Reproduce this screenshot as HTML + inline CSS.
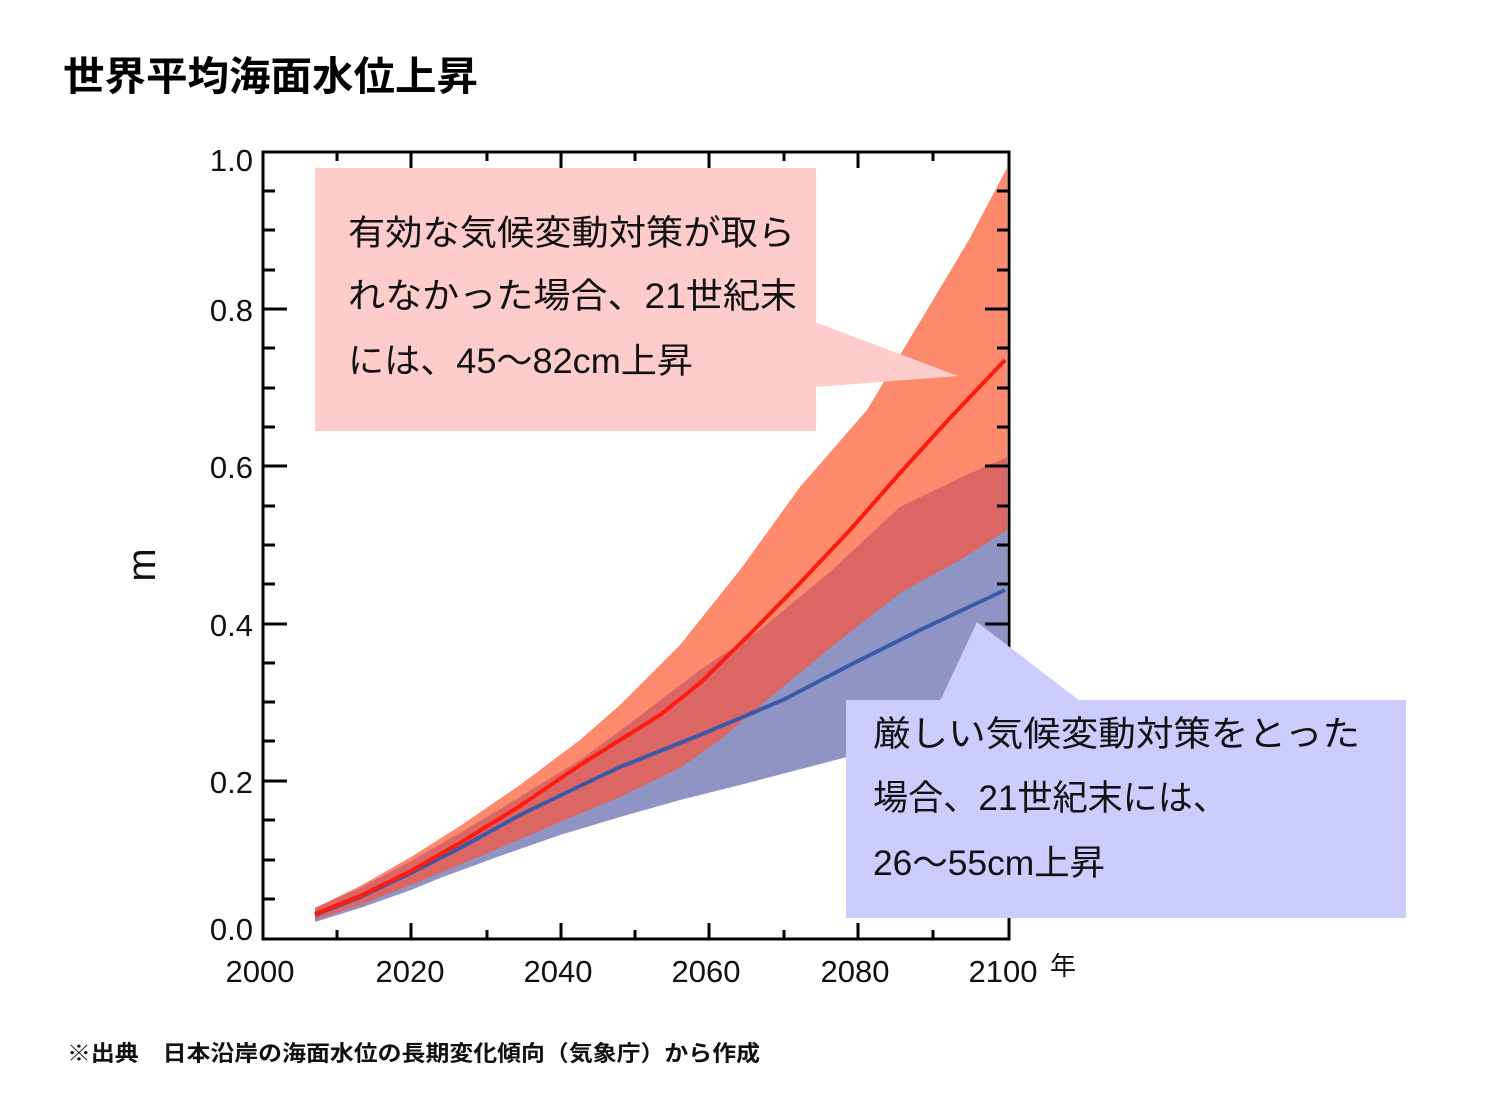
<!DOCTYPE html>
<html><head><meta charset="utf-8"><style>
html,body{margin:0;padding:0;background:#fff;}
svg{display:block;}
</style></head><body>
<svg width="1500" height="1101" viewBox="0 0 1500 1101" xmlns="http://www.w3.org/2000/svg">
<g font-family="Liberation Sans, Noto Sans CJK JP, sans-serif">
<text x="63" y="90" font-size="40" font-weight="bold" textLength="415" lengthAdjust="spacingAndGlyphs" fill="#000">世界平均海面水位上昇</text>

<!-- orange band -->
<path d="M315,908 L360,886 L411,857 L460,826 L520,785 L580,740 L620,705 L680,645 L740,570 L800,487 L867,410 L933,300 L970,238 L1007,168 L1007,530 L960,560 L900,593 L830,648 L767,700 L720,740 L680,768 L620,797 L560,822 L500,848 L440,873 L411,885 L360,905 L315,920 Z" fill="#fd8a6c"/>
<!-- blue band -->
<path d="M315,908 L360,888 L411,861 L460,833 L520,797 L580,760 L620,731 L700,670 L760,630 L830,572 L900,507 L960,478 L1007,457 L1007,722 L930,738 L847,757 L740,785 L680,800 L620,817 L560,835 L500,856 L440,878 L411,890 L360,908 L315,922 Z" fill="#8e95c4"/>
<!-- overlap -->
<path d="M315,908 L360,888 L411,861 L460,833 L520,797 L580,760 L620,731 L700,670 L760,630 L830,572 L900,507 L960,478 L1007,457 L1007,530 L960,560 L900,593 L830,648 L767,700 L720,740 L680,768 L620,797 L560,822 L500,848 L440,873 L411,885 L360,905 L315,920 Z" fill="#dc6663"/>
<!-- blue line -->
<polyline points="315,915 360,897 411,873 460,848 520,815 580,786 620,767 700,735 783,700 850,665 920,630 1005,590" fill="none" stroke="#3a5aa8" stroke-width="4"/>
<!-- red line -->
<polyline points="315,914 360,896 411,871 460,843 520,806 580,765 620,740 660,715 700,683 750,634 800,583 850,530 900,473 950,418 1005,360" fill="none" stroke="#ff1a10" stroke-width="4"/>

<!-- frame -->
<rect x="263" y="152" width="746" height="787" fill="none" stroke="#000" stroke-width="3"/>
<g stroke="#000" stroke-width="3">
<path d="M263,191 h12 M263,230 h12 M263,270 h12 M263,309 h24 M263,348 h12 M263,388 h12 M263,427 h12 M263,466 h24 M263,506 h12 M263,545 h12 M263,584 h12 M263,624 h24 M263,663 h12 M263,702 h12 M263,741 h12 M263,781 h24 M263,820 h12 M263,860 h12 M263,899 h12"/>
<path d="M1009,191 h-12 M1009,230 h-12 M1009,270 h-12 M1009,309 h-24 M1009,348 h-12 M1009,388 h-12 M1009,427 h-12 M1009,466 h-24 M1009,506 h-12 M1009,545 h-12 M1009,584 h-12 M1009,624 h-24 M1009,663 h-12 M1009,702 h-12 M1009,741 h-12 M1009,781 h-24 M1009,820 h-12 M1009,860 h-12 M1009,899 h-12"/>
<path d="M337,939 v-9 M411,939 v-16 M487,939 v-9 M561,939 v-16 M635,939 v-9 M709,939 v-16 M784,939 v-9 M858,939 v-16 M933,939 v-9"/>
<path d="M337,152 v9 M411,152 v16 M487,152 v9 M561,152 v16 M635,152 v9 M709,152 v16 M784,152 v9 M858,152 v16 M933,152 v9"/>
</g>
<g font-size="31" fill="#111" text-anchor="end">
<text x="253" y="171">1.0</text>
<text x="253" y="321">0.8</text>
<text x="253" y="478">0.6</text>
<text x="253" y="636">0.4</text>
<text x="253" y="793">0.2</text>
<text x="253" y="940">0.0</text>
</g>
<g font-size="31" fill="#111" text-anchor="middle">
<text x="260" y="982">2000</text>
<text x="410" y="982">2020</text>
<text x="558" y="982">2040</text>
<text x="706" y="982">2060</text>
<text x="855" y="982">2080</text>
<text x="1003" y="982">2100</text>
</g>
<text x="1063" y="975" font-size="26" text-anchor="middle" fill="#111">年</text>
<text transform="translate(155,565) rotate(-90)" font-size="40" text-anchor="middle" fill="#111">m</text>

<!-- pink callout -->
<rect x="315" y="168" width="501" height="263" fill="#ffcccc"/>
<polygon points="815,322 815,387 958,376" fill="#ffcccc"/>
<g font-size="35" fill="#111">
<text x="348" y="245" textLength="447" lengthAdjust="spacingAndGlyphs">有効な気候変動対策が取ら</text>
<text x="348" y="308" textLength="449" lengthAdjust="spacingAndGlyphs">れなかった場合、21世紀末</text>
<text x="348" y="373" textLength="345" lengthAdjust="spacingAndGlyphs">には、45〜82cm上昇</text>
</g>

<!-- blue callout -->
<rect x="846" y="700" width="560" height="218" fill="#ccccff"/>
<polygon points="940,701 1080,701 977,622" fill="#ccccff"/>
<g font-size="35" fill="#111">
<text x="873" y="746" textLength="487" lengthAdjust="spacingAndGlyphs">厳しい気候変動対策をとった</text>
<text x="873" y="810" textLength="355" lengthAdjust="spacingAndGlyphs">場合、21世紀末には、</text>
<text x="873" y="875" textLength="232" lengthAdjust="spacingAndGlyphs">26〜55cm上昇</text>
</g>

<text x="67" y="1061" font-size="22" font-weight="bold" fill="#111" textLength="693" lengthAdjust="spacingAndGlyphs">※出典　日本沿岸の海面水位の長期変化傾向（気象庁）から作成</text>
</g>
</svg>
</body></html>
